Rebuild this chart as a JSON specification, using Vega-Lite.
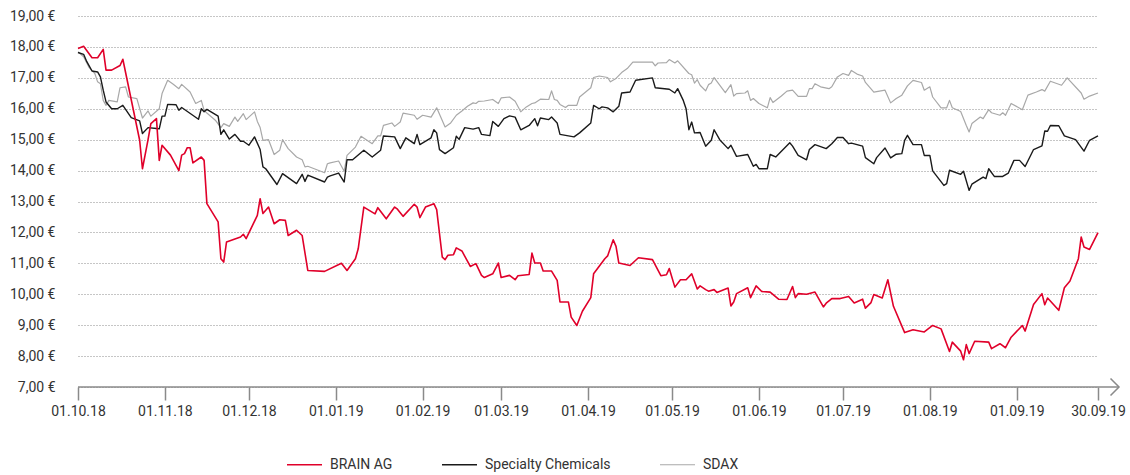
{
"$schema": "https://vega.github.io/schema/vega-lite/v6.json",
"width": 1020,
"height": 371,
"autosize": {"type": "none"},
"padding": {"left": 78, "top": 16, "right": 32, "bottom": 88},
"background": "white",
"config": {"view": {"stroke": null}, "font": "Roboto"},
"datasets": {
"prices": [
{"date":"2018-10-01","series":"SDAX","value":17.84},
{"date":"2018-10-03","series":"SDAX","value":17.68},
{"date":"2018-10-05","series":"SDAX","value":17.33},
{"date":"2018-10-07","series":"SDAX","value":17.14},
{"date":"2018-10-08","series":"SDAX","value":16.87},
{"date":"2018-10-09","series":"SDAX","value":16.81},
{"date":"2018-10-10","series":"SDAX","value":16.27},
{"date":"2018-10-11","series":"SDAX","value":16.11},
{"date":"2018-10-12","series":"SDAX","value":16.27},
{"date":"2018-10-15","series":"SDAX","value":16.22},
{"date":"2018-10-16","series":"SDAX","value":16.68},
{"date":"2018-10-18","series":"SDAX","value":16.71},
{"date":"2018-10-19","series":"SDAX","value":16.38},
{"date":"2018-10-22","series":"SDAX","value":16.33},
{"date":"2018-10-24","series":"SDAX","value":15.70},
{"date":"2018-10-26","series":"SDAX","value":15.93},
{"date":"2018-10-27","series":"SDAX","value":15.76},
{"date":"2018-10-30","series":"SDAX","value":16.00},
{"date":"2018-10-31","series":"SDAX","value":16.49},
{"date":"2018-11-02","series":"SDAX","value":16.92},
{"date":"2018-11-04","series":"SDAX","value":16.79},
{"date":"2018-11-06","series":"SDAX","value":16.65},
{"date":"2018-11-07","series":"SDAX","value":16.79},
{"date":"2018-11-10","series":"SDAX","value":16.54},
{"date":"2018-11-12","series":"SDAX","value":16.17},
{"date":"2018-11-14","series":"SDAX","value":16.27},
{"date":"2018-11-15","series":"SDAX","value":15.95},
{"date":"2018-11-16","series":"SDAX","value":15.86},
{"date":"2018-11-19","series":"SDAX","value":15.63},
{"date":"2018-11-21","series":"SDAX","value":15.39},
{"date":"2018-11-22","series":"SDAX","value":15.52},
{"date":"2018-11-24","series":"SDAX","value":15.43},
{"date":"2018-11-26","series":"SDAX","value":15.73},
{"date":"2018-11-27","series":"SDAX","value":15.59},
{"date":"2018-11-29","series":"SDAX","value":15.84},
{"date":"2018-11-30","series":"SDAX","value":15.65},
{"date":"2018-12-03","series":"SDAX","value":15.90},
{"date":"2018-12-04","series":"SDAX","value":15.59},
{"date":"2018-12-05","series":"SDAX","value":15.39},
{"date":"2018-12-06","series":"SDAX","value":14.98},
{"date":"2018-12-08","series":"SDAX","value":15.00},
{"date":"2018-12-10","series":"SDAX","value":14.52},
{"date":"2018-12-12","series":"SDAX","value":14.66},
{"date":"2018-12-13","series":"SDAX","value":15.00},
{"date":"2018-12-15","series":"SDAX","value":14.71},
{"date":"2018-12-18","series":"SDAX","value":14.44},
{"date":"2018-12-20","series":"SDAX","value":14.35},
{"date":"2018-12-21","series":"SDAX","value":14.12},
{"date":"2018-12-22","series":"SDAX","value":14.14},
{"date":"2018-12-28","series":"SDAX","value":13.93},
{"date":"2018-12-29","series":"SDAX","value":14.22},
{"date":"2018-12-30","series":"SDAX","value":14.25},
{"date":"2019-01-02","series":"SDAX","value":14.31},
{"date":"2019-01-04","series":"SDAX","value":13.98},
{"date":"2019-01-05","series":"SDAX","value":14.49},
{"date":"2019-01-08","series":"SDAX","value":14.76},
{"date":"2019-01-10","series":"SDAX","value":15.11},
{"date":"2019-01-14","series":"SDAX","value":14.87},
{"date":"2019-01-16","series":"SDAX","value":15.12},
{"date":"2019-01-17","series":"SDAX","value":15.12},
{"date":"2019-01-18","series":"SDAX","value":15.46},
{"date":"2019-01-21","series":"SDAX","value":15.54},
{"date":"2019-01-22","series":"SDAX","value":15.43},
{"date":"2019-01-24","series":"SDAX","value":15.57},
{"date":"2019-01-25","series":"SDAX","value":15.86},
{"date":"2019-01-29","series":"SDAX","value":15.79},
{"date":"2019-01-30","series":"SDAX","value":15.66},
{"date":"2019-02-01","series":"SDAX","value":15.79},
{"date":"2019-02-04","series":"SDAX","value":15.73},
{"date":"2019-02-06","series":"SDAX","value":16.03},
{"date":"2019-02-09","series":"SDAX","value":15.41},
{"date":"2019-02-11","series":"SDAX","value":15.54},
{"date":"2019-02-13","series":"SDAX","value":15.79},
{"date":"2019-02-15","series":"SDAX","value":15.93},
{"date":"2019-02-17","series":"SDAX","value":16.08},
{"date":"2019-02-19","series":"SDAX","value":16.19},
{"date":"2019-02-20","series":"SDAX","value":16.17},
{"date":"2019-02-21","series":"SDAX","value":16.24},
{"date":"2019-02-23","series":"SDAX","value":16.25},
{"date":"2019-02-26","series":"SDAX","value":16.30},
{"date":"2019-02-28","series":"SDAX","value":16.17},
{"date":"2019-03-01","series":"SDAX","value":16.35},
{"date":"2019-03-04","series":"SDAX","value":16.38},
{"date":"2019-03-06","series":"SDAX","value":16.24},
{"date":"2019-03-08","series":"SDAX","value":15.90},
{"date":"2019-03-10","series":"SDAX","value":16.06},
{"date":"2019-03-12","series":"SDAX","value":16.17},
{"date":"2019-03-13","series":"SDAX","value":16.19},
{"date":"2019-03-15","series":"SDAX","value":16.31},
{"date":"2019-03-18","series":"SDAX","value":16.30},
{"date":"2019-03-19","series":"SDAX","value":16.58},
{"date":"2019-03-20","series":"SDAX","value":16.30},
{"date":"2019-03-21","series":"SDAX","value":16.27},
{"date":"2019-03-22","series":"SDAX","value":16.14},
{"date":"2019-03-24","series":"SDAX","value":16.04},
{"date":"2019-03-25","series":"SDAX","value":16.11},
{"date":"2019-03-28","series":"SDAX","value":16.11},
{"date":"2019-03-29","series":"SDAX","value":16.38},
{"date":"2019-04-02","series":"SDAX","value":16.68},
{"date":"2019-04-03","series":"SDAX","value":17.01},
{"date":"2019-04-05","series":"SDAX","value":17.06},
{"date":"2019-04-08","series":"SDAX","value":17.01},
{"date":"2019-04-09","series":"SDAX","value":16.87},
{"date":"2019-04-11","series":"SDAX","value":16.98},
{"date":"2019-04-13","series":"SDAX","value":17.17},
{"date":"2019-04-15","series":"SDAX","value":17.30},
{"date":"2019-04-17","series":"SDAX","value":17.51},
{"date":"2019-04-24","series":"SDAX","value":17.51},
{"date":"2019-04-25","series":"SDAX","value":17.39},
{"date":"2019-04-26","series":"SDAX","value":17.48},
{"date":"2019-04-29","series":"SDAX","value":17.49},
{"date":"2019-04-30","series":"SDAX","value":17.59},
{"date":"2019-05-02","series":"SDAX","value":17.48},
{"date":"2019-05-03","series":"SDAX","value":17.55},
{"date":"2019-05-07","series":"SDAX","value":17.14},
{"date":"2019-05-08","series":"SDAX","value":17.10},
{"date":"2019-05-09","series":"SDAX","value":16.83},
{"date":"2019-05-10","series":"SDAX","value":16.94},
{"date":"2019-05-11","series":"SDAX","value":16.76},
{"date":"2019-05-13","series":"SDAX","value":16.58},
{"date":"2019-05-14","series":"SDAX","value":16.78},
{"date":"2019-05-15","series":"SDAX","value":16.83},
{"date":"2019-05-16","series":"SDAX","value":17.01},
{"date":"2019-05-20","series":"SDAX","value":16.52},
{"date":"2019-05-22","series":"SDAX","value":16.78},
{"date":"2019-05-23","series":"SDAX","value":16.41},
{"date":"2019-05-24","series":"SDAX","value":16.49},
{"date":"2019-05-27","series":"SDAX","value":16.51},
{"date":"2019-05-28","series":"SDAX","value":16.58},
{"date":"2019-05-29","series":"SDAX","value":16.27},
{"date":"2019-05-30","series":"SDAX","value":16.33},
{"date":"2019-06-01","series":"SDAX","value":16.17},
{"date":"2019-06-04","series":"SDAX","value":16.03},
{"date":"2019-06-05","series":"SDAX","value":16.36},
{"date":"2019-06-06","series":"SDAX","value":16.20},
{"date":"2019-06-09","series":"SDAX","value":16.41},
{"date":"2019-06-11","series":"SDAX","value":16.57},
{"date":"2019-06-13","series":"SDAX","value":16.60},
{"date":"2019-06-15","series":"SDAX","value":16.40},
{"date":"2019-06-18","series":"SDAX","value":16.40},
{"date":"2019-06-19","series":"SDAX","value":16.65},
{"date":"2019-06-20","series":"SDAX","value":16.65},
{"date":"2019-06-21","series":"SDAX","value":16.81},
{"date":"2019-06-23","series":"SDAX","value":16.71},
{"date":"2019-06-26","series":"SDAX","value":16.65},
{"date":"2019-06-27","series":"SDAX","value":16.71},
{"date":"2019-06-29","series":"SDAX","value":17.03},
{"date":"2019-07-01","series":"SDAX","value":17.14},
{"date":"2019-07-03","series":"SDAX","value":17.08},
{"date":"2019-07-04","series":"SDAX","value":17.24},
{"date":"2019-07-06","series":"SDAX","value":17.12},
{"date":"2019-07-08","series":"SDAX","value":17.06},
{"date":"2019-07-09","series":"SDAX","value":16.85},
{"date":"2019-07-12","series":"SDAX","value":16.54},
{"date":"2019-07-16","series":"SDAX","value":16.60},
{"date":"2019-07-18","series":"SDAX","value":16.19},
{"date":"2019-07-20","series":"SDAX","value":16.33},
{"date":"2019-07-22","series":"SDAX","value":16.44},
{"date":"2019-07-24","series":"SDAX","value":16.74},
{"date":"2019-07-26","series":"SDAX","value":16.92},
{"date":"2019-07-29","series":"SDAX","value":16.85},
{"date":"2019-07-30","series":"SDAX","value":16.60},
{"date":"2019-08-01","series":"SDAX","value":16.71},
{"date":"2019-08-02","series":"SDAX","value":16.38},
{"date":"2019-08-05","series":"SDAX","value":16.03},
{"date":"2019-08-07","series":"SDAX","value":16.03},
{"date":"2019-08-08","series":"SDAX","value":16.27},
{"date":"2019-08-09","series":"SDAX","value":16.03},
{"date":"2019-08-12","series":"SDAX","value":15.91},
{"date":"2019-08-14","series":"SDAX","value":15.46},
{"date":"2019-08-15","series":"SDAX","value":15.25},
{"date":"2019-08-16","series":"SDAX","value":15.52},
{"date":"2019-08-19","series":"SDAX","value":15.73},
{"date":"2019-08-20","series":"SDAX","value":15.68},
{"date":"2019-08-22","series":"SDAX","value":15.97},
{"date":"2019-08-23","series":"SDAX","value":15.87},
{"date":"2019-08-26","series":"SDAX","value":15.79},
{"date":"2019-08-27","series":"SDAX","value":15.87},
{"date":"2019-08-28","series":"SDAX","value":15.79},
{"date":"2019-08-30","series":"SDAX","value":16.17},
{"date":"2019-09-03","series":"SDAX","value":15.97},
{"date":"2019-09-05","series":"SDAX","value":16.44},
{"date":"2019-09-08","series":"SDAX","value":16.54},
{"date":"2019-09-10","series":"SDAX","value":16.62},
{"date":"2019-09-11","series":"SDAX","value":16.57},
{"date":"2019-09-13","series":"SDAX","value":16.89},
{"date":"2019-09-17","series":"SDAX","value":16.76},
{"date":"2019-09-19","series":"SDAX","value":17.00},
{"date":"2019-09-24","series":"SDAX","value":16.51},
{"date":"2019-09-25","series":"SDAX","value":16.31},
{"date":"2019-09-27","series":"SDAX","value":16.41},
{"date":"2019-09-30","series":"SDAX","value":16.51},
{"date":"2018-10-01","series":"Specialty Chemicals","value":17.82},
{"date":"2018-10-03","series":"Specialty Chemicals","value":17.76},
{"date":"2018-10-04","series":"Specialty Chemicals","value":17.55},
{"date":"2018-10-06","series":"Specialty Chemicals","value":17.22},
{"date":"2018-10-08","series":"Specialty Chemicals","value":17.19},
{"date":"2018-10-09","series":"Specialty Chemicals","value":17.03},
{"date":"2018-10-10","series":"Specialty Chemicals","value":16.60},
{"date":"2018-10-11","series":"Specialty Chemicals","value":16.22},
{"date":"2018-10-13","series":"Specialty Chemicals","value":16.00},
{"date":"2018-10-15","series":"Specialty Chemicals","value":16.00},
{"date":"2018-10-17","series":"Specialty Chemicals","value":16.11},
{"date":"2018-10-20","series":"Specialty Chemicals","value":15.71},
{"date":"2018-10-23","series":"Specialty Chemicals","value":15.61},
{"date":"2018-10-24","series":"Specialty Chemicals","value":15.20},
{"date":"2018-10-26","series":"Specialty Chemicals","value":15.39},
{"date":"2018-10-29","series":"Specialty Chemicals","value":15.36},
{"date":"2018-10-30","series":"Specialty Chemicals","value":15.35},
{"date":"2018-10-31","series":"Specialty Chemicals","value":15.76},
{"date":"2018-11-01","series":"Specialty Chemicals","value":15.76},
{"date":"2018-11-02","series":"Specialty Chemicals","value":16.14},
{"date":"2018-11-05","series":"Specialty Chemicals","value":16.13},
{"date":"2018-11-06","series":"Specialty Chemicals","value":15.95},
{"date":"2018-11-07","series":"Specialty Chemicals","value":16.04},
{"date":"2018-11-13","series":"Specialty Chemicals","value":15.66},
{"date":"2018-11-14","series":"Specialty Chemicals","value":16.00},
{"date":"2018-11-15","series":"Specialty Chemicals","value":15.90},
{"date":"2018-11-16","series":"Specialty Chemicals","value":15.98},
{"date":"2018-11-20","series":"Specialty Chemicals","value":15.76},
{"date":"2018-11-21","series":"Specialty Chemicals","value":15.17},
{"date":"2018-11-22","series":"Specialty Chemicals","value":15.32},
{"date":"2018-11-24","series":"Specialty Chemicals","value":15.02},
{"date":"2018-11-26","series":"Specialty Chemicals","value":15.17},
{"date":"2018-11-28","series":"Specialty Chemicals","value":14.95},
{"date":"2018-11-29","series":"Specialty Chemicals","value":14.95},
{"date":"2018-12-01","series":"Specialty Chemicals","value":14.82},
{"date":"2018-12-03","series":"Specialty Chemicals","value":15.09},
{"date":"2018-12-05","series":"Specialty Chemicals","value":14.68},
{"date":"2018-12-06","series":"Specialty Chemicals","value":14.12},
{"date":"2018-12-07","series":"Specialty Chemicals","value":14.06},
{"date":"2018-12-11","series":"Specialty Chemicals","value":13.55},
{"date":"2018-12-13","series":"Specialty Chemicals","value":13.90},
{"date":"2018-12-18","series":"Specialty Chemicals","value":13.58},
{"date":"2018-12-20","series":"Specialty Chemicals","value":13.88},
{"date":"2018-12-21","series":"Specialty Chemicals","value":13.65},
{"date":"2018-12-22","series":"Specialty Chemicals","value":13.85},
{"date":"2018-12-28","series":"Specialty Chemicals","value":13.63},
{"date":"2018-12-29","series":"Specialty Chemicals","value":13.79},
{"date":"2018-12-30","series":"Specialty Chemicals","value":13.83},
{"date":"2019-01-02","series":"Specialty Chemicals","value":13.92},
{"date":"2019-01-04","series":"Specialty Chemicals","value":13.63},
{"date":"2019-01-05","series":"Specialty Chemicals","value":14.35},
{"date":"2019-01-07","series":"Specialty Chemicals","value":14.35},
{"date":"2019-01-11","series":"Specialty Chemicals","value":14.66},
{"date":"2019-01-14","series":"Specialty Chemicals","value":14.44},
{"date":"2019-01-17","series":"Specialty Chemicals","value":14.66},
{"date":"2019-01-18","series":"Specialty Chemicals","value":15.12},
{"date":"2019-01-22","series":"Specialty Chemicals","value":15.09},
{"date":"2019-01-24","series":"Specialty Chemicals","value":14.71},
{"date":"2019-01-26","series":"Specialty Chemicals","value":15.06},
{"date":"2019-01-29","series":"Specialty Chemicals","value":14.87},
{"date":"2019-01-30","series":"Specialty Chemicals","value":15.17},
{"date":"2019-01-31","series":"Specialty Chemicals","value":14.84},
{"date":"2019-02-04","series":"Specialty Chemicals","value":15.06},
{"date":"2019-02-05","series":"Specialty Chemicals","value":15.32},
{"date":"2019-02-06","series":"Specialty Chemicals","value":15.22},
{"date":"2019-02-07","series":"Specialty Chemicals","value":14.68},
{"date":"2019-02-09","series":"Specialty Chemicals","value":14.55},
{"date":"2019-02-12","series":"Specialty Chemicals","value":14.74},
{"date":"2019-02-13","series":"Specialty Chemicals","value":15.11},
{"date":"2019-02-14","series":"Specialty Chemicals","value":15.01},
{"date":"2019-02-16","series":"Specialty Chemicals","value":15.39},
{"date":"2019-02-19","series":"Specialty Chemicals","value":15.34},
{"date":"2019-02-21","series":"Specialty Chemicals","value":15.39},
{"date":"2019-02-22","series":"Specialty Chemicals","value":15.17},
{"date":"2019-02-25","series":"Specialty Chemicals","value":15.13},
{"date":"2019-02-26","series":"Specialty Chemicals","value":15.59},
{"date":"2019-02-28","series":"Specialty Chemicals","value":15.43},
{"date":"2019-03-02","series":"Specialty Chemicals","value":15.68},
{"date":"2019-03-04","series":"Specialty Chemicals","value":15.77},
{"date":"2019-03-06","series":"Specialty Chemicals","value":15.73},
{"date":"2019-03-08","series":"Specialty Chemicals","value":15.32},
{"date":"2019-03-11","series":"Specialty Chemicals","value":15.46},
{"date":"2019-03-13","series":"Specialty Chemicals","value":15.68},
{"date":"2019-03-14","series":"Specialty Chemicals","value":15.45},
{"date":"2019-03-15","series":"Specialty Chemicals","value":15.70},
{"date":"2019-03-18","series":"Specialty Chemicals","value":15.65},
{"date":"2019-03-19","series":"Specialty Chemicals","value":15.73},
{"date":"2019-03-21","series":"Specialty Chemicals","value":15.54},
{"date":"2019-03-22","series":"Specialty Chemicals","value":15.17},
{"date":"2019-03-27","series":"Specialty Chemicals","value":15.09},
{"date":"2019-03-29","series":"Specialty Chemicals","value":15.22},
{"date":"2019-04-02","series":"Specialty Chemicals","value":15.54},
{"date":"2019-04-03","series":"Specialty Chemicals","value":16.11},
{"date":"2019-04-05","series":"Specialty Chemicals","value":16.00},
{"date":"2019-04-06","series":"Specialty Chemicals","value":16.06},
{"date":"2019-04-08","series":"Specialty Chemicals","value":16.03},
{"date":"2019-04-10","series":"Specialty Chemicals","value":15.90},
{"date":"2019-04-12","series":"Specialty Chemicals","value":16.08},
{"date":"2019-04-13","series":"Specialty Chemicals","value":16.51},
{"date":"2019-04-16","series":"Specialty Chemicals","value":16.54},
{"date":"2019-04-18","series":"Specialty Chemicals","value":16.92},
{"date":"2019-04-24","series":"Specialty Chemicals","value":17.00},
{"date":"2019-04-25","series":"Specialty Chemicals","value":16.68},
{"date":"2019-04-30","series":"Specialty Chemicals","value":16.63},
{"date":"2019-05-02","series":"Specialty Chemicals","value":16.51},
{"date":"2019-05-03","series":"Specialty Chemicals","value":16.65},
{"date":"2019-05-05","series":"Specialty Chemicals","value":16.27},
{"date":"2019-05-06","series":"Specialty Chemicals","value":16.00},
{"date":"2019-05-07","series":"Specialty Chemicals","value":15.32},
{"date":"2019-05-08","series":"Specialty Chemicals","value":15.57},
{"date":"2019-05-09","series":"Specialty Chemicals","value":15.22},
{"date":"2019-05-11","series":"Specialty Chemicals","value":15.23},
{"date":"2019-05-13","series":"Specialty Chemicals","value":14.79},
{"date":"2019-05-15","series":"Specialty Chemicals","value":14.98},
{"date":"2019-05-16","series":"Specialty Chemicals","value":15.32},
{"date":"2019-05-18","series":"Specialty Chemicals","value":15.00},
{"date":"2019-05-21","series":"Specialty Chemicals","value":14.71},
{"date":"2019-05-22","series":"Specialty Chemicals","value":14.82},
{"date":"2019-05-24","series":"Specialty Chemicals","value":14.46},
{"date":"2019-05-28","series":"Specialty Chemicals","value":14.52},
{"date":"2019-05-30","series":"Specialty Chemicals","value":14.14},
{"date":"2019-05-31","series":"Specialty Chemicals","value":14.20},
{"date":"2019-06-01","series":"Specialty Chemicals","value":14.06},
{"date":"2019-06-04","series":"Specialty Chemicals","value":14.06},
{"date":"2019-06-05","series":"Specialty Chemicals","value":14.52},
{"date":"2019-06-07","series":"Specialty Chemicals","value":14.44},
{"date":"2019-06-12","series":"Specialty Chemicals","value":14.90},
{"date":"2019-06-13","series":"Specialty Chemicals","value":14.79},
{"date":"2019-06-15","series":"Specialty Chemicals","value":14.49},
{"date":"2019-06-18","series":"Specialty Chemicals","value":14.35},
{"date":"2019-06-19","series":"Specialty Chemicals","value":14.68},
{"date":"2019-06-21","series":"Specialty Chemicals","value":14.84},
{"date":"2019-06-25","series":"Specialty Chemicals","value":14.71},
{"date":"2019-06-27","series":"Specialty Chemicals","value":14.87},
{"date":"2019-06-29","series":"Specialty Chemicals","value":15.07},
{"date":"2019-07-01","series":"Specialty Chemicals","value":15.07},
{"date":"2019-07-03","series":"Specialty Chemicals","value":14.87},
{"date":"2019-07-04","series":"Specialty Chemicals","value":14.89},
{"date":"2019-07-08","series":"Specialty Chemicals","value":14.79},
{"date":"2019-07-09","series":"Specialty Chemicals","value":14.42},
{"date":"2019-07-12","series":"Specialty Chemicals","value":14.22},
{"date":"2019-07-13","series":"Specialty Chemicals","value":14.42},
{"date":"2019-07-16","series":"Specialty Chemicals","value":14.73},
{"date":"2019-07-18","series":"Specialty Chemicals","value":14.41},
{"date":"2019-07-20","series":"Specialty Chemicals","value":14.53},
{"date":"2019-07-22","series":"Specialty Chemicals","value":14.55},
{"date":"2019-07-23","series":"Specialty Chemicals","value":14.98},
{"date":"2019-07-24","series":"Specialty Chemicals","value":15.14},
{"date":"2019-07-26","series":"Specialty Chemicals","value":14.84},
{"date":"2019-07-29","series":"Specialty Chemicals","value":14.84},
{"date":"2019-07-30","series":"Specialty Chemicals","value":14.49},
{"date":"2019-08-01","series":"Specialty Chemicals","value":14.49},
{"date":"2019-08-02","series":"Specialty Chemicals","value":13.99},
{"date":"2019-08-06","series":"Specialty Chemicals","value":13.52},
{"date":"2019-08-07","series":"Specialty Chemicals","value":13.58},
{"date":"2019-08-08","series":"Specialty Chemicals","value":14.01},
{"date":"2019-08-12","series":"Specialty Chemicals","value":13.88},
{"date":"2019-08-13","series":"Specialty Chemicals","value":13.98},
{"date":"2019-08-15","series":"Specialty Chemicals","value":13.36},
{"date":"2019-08-16","series":"Specialty Chemicals","value":13.56},
{"date":"2019-08-20","series":"Specialty Chemicals","value":13.79},
{"date":"2019-08-21","series":"Specialty Chemicals","value":13.74},
{"date":"2019-08-22","series":"Specialty Chemicals","value":14.06},
{"date":"2019-08-24","series":"Specialty Chemicals","value":13.81},
{"date":"2019-08-27","series":"Specialty Chemicals","value":13.81},
{"date":"2019-08-29","series":"Specialty Chemicals","value":13.92},
{"date":"2019-08-31","series":"Specialty Chemicals","value":14.33},
{"date":"2019-09-02","series":"Specialty Chemicals","value":14.33},
{"date":"2019-09-04","series":"Specialty Chemicals","value":14.13},
{"date":"2019-09-07","series":"Specialty Chemicals","value":14.68},
{"date":"2019-09-10","series":"Specialty Chemicals","value":14.80},
{"date":"2019-09-11","series":"Specialty Chemicals","value":15.28},
{"date":"2019-09-12","series":"Specialty Chemicals","value":15.27},
{"date":"2019-09-13","series":"Specialty Chemicals","value":15.46},
{"date":"2019-09-16","series":"Specialty Chemicals","value":15.45},
{"date":"2019-09-18","series":"Specialty Chemicals","value":15.12},
{"date":"2019-09-22","series":"Specialty Chemicals","value":15.00},
{"date":"2019-09-25","series":"Specialty Chemicals","value":14.63},
{"date":"2019-09-27","series":"Specialty Chemicals","value":14.98},
{"date":"2019-09-30","series":"Specialty Chemicals","value":15.12},
{"date":"2018-10-01","series":"BRAIN AG","value":17.95},
{"date":"2018-10-03","series":"BRAIN AG","value":18.02},
{"date":"2018-10-06","series":"BRAIN AG","value":17.65},
{"date":"2018-10-08","series":"BRAIN AG","value":17.65},
{"date":"2018-10-10","series":"BRAIN AG","value":17.92},
{"date":"2018-10-11","series":"BRAIN AG","value":17.25},
{"date":"2018-10-13","series":"BRAIN AG","value":17.25},
{"date":"2018-10-16","series":"BRAIN AG","value":17.40},
{"date":"2018-10-17","series":"BRAIN AG","value":17.60},
{"date":"2018-10-23","series":"BRAIN AG","value":14.98},
{"date":"2018-10-24","series":"BRAIN AG","value":14.06},
{"date":"2018-10-26","series":"BRAIN AG","value":15.00},
{"date":"2018-10-27","series":"BRAIN AG","value":15.52},
{"date":"2018-10-29","series":"BRAIN AG","value":15.68},
{"date":"2018-10-30","series":"BRAIN AG","value":14.33},
{"date":"2018-10-31","series":"BRAIN AG","value":14.82},
{"date":"2018-11-03","series":"BRAIN AG","value":14.50},
{"date":"2018-11-06","series":"BRAIN AG","value":14.00},
{"date":"2018-11-07","series":"BRAIN AG","value":14.50},
{"date":"2018-11-08","series":"BRAIN AG","value":14.55},
{"date":"2018-11-09","series":"BRAIN AG","value":14.74},
{"date":"2018-11-10","series":"BRAIN AG","value":14.74},
{"date":"2018-11-11","series":"BRAIN AG","value":14.25},
{"date":"2018-11-14","series":"BRAIN AG","value":14.44},
{"date":"2018-11-15","series":"BRAIN AG","value":14.33},
{"date":"2018-11-16","series":"BRAIN AG","value":12.93},
{"date":"2018-11-20","series":"BRAIN AG","value":12.34},
{"date":"2018-11-21","series":"BRAIN AG","value":11.15},
{"date":"2018-11-22","series":"BRAIN AG","value":11.04},
{"date":"2018-11-23","series":"BRAIN AG","value":11.69},
{"date":"2018-11-28","series":"BRAIN AG","value":11.85},
{"date":"2018-11-29","series":"BRAIN AG","value":11.94},
{"date":"2018-11-30","series":"BRAIN AG","value":11.80},
{"date":"2018-12-04","series":"BRAIN AG","value":12.55},
{"date":"2018-12-05","series":"BRAIN AG","value":13.09},
{"date":"2018-12-06","series":"BRAIN AG","value":12.61},
{"date":"2018-12-08","series":"BRAIN AG","value":12.82},
{"date":"2018-12-10","series":"BRAIN AG","value":12.28},
{"date":"2018-12-12","series":"BRAIN AG","value":12.41},
{"date":"2018-12-14","series":"BRAIN AG","value":12.39},
{"date":"2018-12-15","series":"BRAIN AG","value":11.90},
{"date":"2018-12-18","series":"BRAIN AG","value":12.07},
{"date":"2018-12-20","series":"BRAIN AG","value":11.90},
{"date":"2018-12-22","series":"BRAIN AG","value":10.77},
{"date":"2018-12-28","series":"BRAIN AG","value":10.74},
{"date":"2019-01-03","series":"BRAIN AG","value":11.00},
{"date":"2019-01-05","series":"BRAIN AG","value":10.77},
{"date":"2019-01-08","series":"BRAIN AG","value":11.15},
{"date":"2019-01-09","series":"BRAIN AG","value":11.47},
{"date":"2019-01-11","series":"BRAIN AG","value":12.82},
{"date":"2019-01-15","series":"BRAIN AG","value":12.60},
{"date":"2019-01-16","series":"BRAIN AG","value":12.80},
{"date":"2019-01-19","series":"BRAIN AG","value":12.44},
{"date":"2019-01-22","series":"BRAIN AG","value":12.82},
{"date":"2019-01-23","series":"BRAIN AG","value":12.75},
{"date":"2019-01-25","series":"BRAIN AG","value":12.52},
{"date":"2019-01-29","series":"BRAIN AG","value":12.91},
{"date":"2019-01-30","series":"BRAIN AG","value":12.82},
{"date":"2019-01-31","series":"BRAIN AG","value":12.48},
{"date":"2019-02-02","series":"BRAIN AG","value":12.82},
{"date":"2019-02-05","series":"BRAIN AG","value":12.93},
{"date":"2019-02-06","series":"BRAIN AG","value":12.74},
{"date":"2019-02-08","series":"BRAIN AG","value":11.20},
{"date":"2019-02-09","series":"BRAIN AG","value":11.12},
{"date":"2019-02-10","series":"BRAIN AG","value":11.26},
{"date":"2019-02-12","series":"BRAIN AG","value":11.28},
{"date":"2019-02-13","series":"BRAIN AG","value":11.50},
{"date":"2019-02-15","series":"BRAIN AG","value":11.40},
{"date":"2019-02-18","series":"BRAIN AG","value":10.90},
{"date":"2019-02-20","series":"BRAIN AG","value":10.99},
{"date":"2019-02-22","series":"BRAIN AG","value":10.61},
{"date":"2019-02-23","series":"BRAIN AG","value":10.54},
{"date":"2019-02-26","series":"BRAIN AG","value":10.66},
{"date":"2019-02-28","series":"BRAIN AG","value":11.01},
{"date":"2019-03-01","series":"BRAIN AG","value":10.54},
{"date":"2019-03-04","series":"BRAIN AG","value":10.61},
{"date":"2019-03-06","series":"BRAIN AG","value":10.47},
{"date":"2019-03-07","series":"BRAIN AG","value":10.60},
{"date":"2019-03-11","series":"BRAIN AG","value":10.64},
{"date":"2019-03-12","series":"BRAIN AG","value":11.33},
{"date":"2019-03-13","series":"BRAIN AG","value":11.01},
{"date":"2019-03-15","series":"BRAIN AG","value":11.01},
{"date":"2019-03-16","series":"BRAIN AG","value":10.75},
{"date":"2019-03-19","series":"BRAIN AG","value":10.75},
{"date":"2019-03-21","series":"BRAIN AG","value":10.45},
{"date":"2019-03-22","series":"BRAIN AG","value":9.75},
{"date":"2019-03-25","series":"BRAIN AG","value":9.75},
{"date":"2019-03-26","series":"BRAIN AG","value":9.26},
{"date":"2019-03-28","series":"BRAIN AG","value":8.99},
{"date":"2019-03-30","series":"BRAIN AG","value":9.45},
{"date":"2019-04-02","series":"BRAIN AG","value":9.89},
{"date":"2019-04-03","series":"BRAIN AG","value":10.66},
{"date":"2019-04-07","series":"BRAIN AG","value":11.15},
{"date":"2019-04-08","series":"BRAIN AG","value":11.24},
{"date":"2019-04-10","series":"BRAIN AG","value":11.76},
{"date":"2019-04-11","series":"BRAIN AG","value":11.55},
{"date":"2019-04-12","series":"BRAIN AG","value":11.01},
{"date":"2019-04-16","series":"BRAIN AG","value":10.93},
{"date":"2019-04-19","series":"BRAIN AG","value":11.18},
{"date":"2019-04-24","series":"BRAIN AG","value":11.12},
{"date":"2019-04-27","series":"BRAIN AG","value":10.60},
{"date":"2019-04-29","series":"BRAIN AG","value":10.63},
{"date":"2019-04-30","series":"BRAIN AG","value":10.83},
{"date":"2019-05-02","series":"BRAIN AG","value":10.23},
{"date":"2019-05-04","series":"BRAIN AG","value":10.47},
{"date":"2019-05-06","series":"BRAIN AG","value":10.47},
{"date":"2019-05-08","series":"BRAIN AG","value":10.66},
{"date":"2019-05-10","series":"BRAIN AG","value":10.17},
{"date":"2019-05-11","series":"BRAIN AG","value":10.27},
{"date":"2019-05-13","series":"BRAIN AG","value":10.15},
{"date":"2019-05-14","series":"BRAIN AG","value":10.10},
{"date":"2019-05-16","series":"BRAIN AG","value":10.15},
{"date":"2019-05-17","series":"BRAIN AG","value":10.06},
{"date":"2019-05-21","series":"BRAIN AG","value":10.20},
{"date":"2019-05-22","series":"BRAIN AG","value":9.62},
{"date":"2019-05-23","series":"BRAIN AG","value":9.75},
{"date":"2019-05-24","series":"BRAIN AG","value":10.02},
{"date":"2019-05-28","series":"BRAIN AG","value":10.21},
{"date":"2019-05-29","series":"BRAIN AG","value":9.89},
{"date":"2019-05-31","series":"BRAIN AG","value":10.27},
{"date":"2019-06-02","series":"BRAIN AG","value":10.09},
{"date":"2019-06-05","series":"BRAIN AG","value":10.07},
{"date":"2019-06-08","series":"BRAIN AG","value":9.84},
{"date":"2019-06-11","series":"BRAIN AG","value":9.83},
{"date":"2019-06-13","series":"BRAIN AG","value":10.25},
{"date":"2019-06-14","series":"BRAIN AG","value":9.89},
{"date":"2019-06-15","series":"BRAIN AG","value":10.02},
{"date":"2019-06-18","series":"BRAIN AG","value":10.00},
{"date":"2019-06-21","series":"BRAIN AG","value":10.07},
{"date":"2019-06-24","series":"BRAIN AG","value":9.59},
{"date":"2019-06-25","series":"BRAIN AG","value":9.71},
{"date":"2019-06-27","series":"BRAIN AG","value":9.86},
{"date":"2019-06-30","series":"BRAIN AG","value":9.86},
{"date":"2019-07-03","series":"BRAIN AG","value":9.93},
{"date":"2019-07-05","series":"BRAIN AG","value":9.72},
{"date":"2019-07-08","series":"BRAIN AG","value":9.84},
{"date":"2019-07-09","series":"BRAIN AG","value":9.55},
{"date":"2019-07-11","series":"BRAIN AG","value":9.73},
{"date":"2019-07-12","series":"BRAIN AG","value":9.99},
{"date":"2019-07-15","series":"BRAIN AG","value":9.88},
{"date":"2019-07-17","series":"BRAIN AG","value":10.47},
{"date":"2019-07-19","series":"BRAIN AG","value":9.61},
{"date":"2019-07-23","series":"BRAIN AG","value":8.76},
{"date":"2019-07-26","series":"BRAIN AG","value":8.85},
{"date":"2019-07-30","series":"BRAIN AG","value":8.78},
{"date":"2019-08-02","series":"BRAIN AG","value":8.99},
{"date":"2019-08-05","series":"BRAIN AG","value":8.88},
{"date":"2019-08-08","series":"BRAIN AG","value":8.15},
{"date":"2019-08-09","series":"BRAIN AG","value":8.45},
{"date":"2019-08-12","series":"BRAIN AG","value":8.16},
{"date":"2019-08-13","series":"BRAIN AG","value":7.88},
{"date":"2019-08-14","series":"BRAIN AG","value":8.37},
{"date":"2019-08-15","series":"BRAIN AG","value":8.08},
{"date":"2019-08-17","series":"BRAIN AG","value":8.48},
{"date":"2019-08-22","series":"BRAIN AG","value":8.45},
{"date":"2019-08-23","series":"BRAIN AG","value":8.24},
{"date":"2019-08-26","series":"BRAIN AG","value":8.40},
{"date":"2019-08-28","series":"BRAIN AG","value":8.27},
{"date":"2019-08-30","series":"BRAIN AG","value":8.61},
{"date":"2019-09-03","series":"BRAIN AG","value":8.99},
{"date":"2019-09-04","series":"BRAIN AG","value":8.81},
{"date":"2019-09-07","series":"BRAIN AG","value":9.67},
{"date":"2019-09-10","series":"BRAIN AG","value":10.02},
{"date":"2019-09-11","series":"BRAIN AG","value":9.66},
{"date":"2019-09-12","series":"BRAIN AG","value":9.88},
{"date":"2019-09-16","series":"BRAIN AG","value":9.48},
{"date":"2019-09-18","series":"BRAIN AG","value":10.21},
{"date":"2019-09-20","series":"BRAIN AG","value":10.43},
{"date":"2019-09-23","series":"BRAIN AG","value":11.15},
{"date":"2019-09-24","series":"BRAIN AG","value":11.85},
{"date":"2019-09-25","series":"BRAIN AG","value":11.53},
{"date":"2019-09-27","series":"BRAIN AG","value":11.45},
{"date":"2019-09-30","series":"BRAIN AG","value":11.99}
]
},
"layer": [
{
"data": {"name": "prices"},
"mark": {"type": "line", "strokeJoin": "round"},
"encoding": {
"x": {"field": "date", "type": "temporal",
"scale": {"type": "utc", "domain": [{"year": 2018, "month": 10, "date": 1, "utc": true}, {"year": 2019, "month": 9, "date": 30, "utc": true}]},
"axis": {"title": null, "domain": false, "grid": false, "format": "%d.%m.%y", "tickCount": 40,
"values": [
{"year": 2018, "month": 10, "date": 1, "utc": true},
{"year": 2018, "month": 11, "date": 1, "utc": true},
{"year": 2018, "month": 12, "date": 1, "utc": true},
{"year": 2019, "month": 1, "date": 1, "utc": true},
{"year": 2019, "month": 2, "date": 1, "utc": true},
{"year": 2019, "month": 3, "date": 1, "utc": true},
{"year": 2019, "month": 4, "date": 1, "utc": true},
{"year": 2019, "month": 5, "date": 1, "utc": true},
{"year": 2019, "month": 6, "date": 1, "utc": true},
{"year": 2019, "month": 7, "date": 1, "utc": true},
{"year": 2019, "month": 8, "date": 1, "utc": true},
{"year": 2019, "month": 9, "date": 1, "utc": true},
{"year": 2019, "month": 9, "date": 30, "utc": true}],
"tickColor": "#8a8a8a", "tickWidth": 1.5, "tickSize": 13, "labelPadding": 4,
"labelFont": "Roboto", "labelFontSize": 14, "labelColor": "#333333",
"labelFlush": false, "labelOverlap": false}},
"y": {"field": "value", "type": "quantitative",
"scale": {"domain": [7, 19], "nice": false, "zero": false},
"axis": {"title": null, "domain": false, "ticks": false, "tickSize": 0, "labelPadding": 23, "tickCount": 30,
"values": [7, 8, 9, 10, 11, 12, 13, 14, 15, 16, 17, 18, 19],
"labelExpr": "replace(format(datum.value, '.2f'), '.', ',') + ' €'",
"labelFont": "Roboto", "labelFontSize": 14, "labelColor": "#333333", "labelOverlap": false, "labelFlush": false,
"grid": true, "gridColor": "#8c8c8c", "gridDash": [1, 2], "gridWidth": 1}},
"color": {"field": "series", "type": "nominal",
"scale": {"domain": ["BRAIN AG", "Specialty Chemicals", "SDAX"], "range": ["#e0002a", "#1a1a1a", "#a8a8a8"]},
"legend": {"orient": "none", "legendX": 208, "legendY": 430, "direction": "horizontal", "title": null,
"symbolType": "stroke", "symbolSize": 1225, "symbolStrokeWidth": 1.5,
"labelFont": "Roboto", "labelFontSize": 14, "labelColor": "#333333", "labelOffset": 7, "columnPadding": 46}},
"strokeWidth": {"field": "series", "type": "nominal",
"scale": {"domain": ["BRAIN AG", "Specialty Chemicals", "SDAX"], "range": [1.6, 1.2, 1.1]},
"legend": null}
}
},
{
"data": {"values": [{}]},
"mark": {"type": "rule", "color": "#8a8a8a", "strokeWidth": 1.5, "clip": false},
"encoding": {
"x": {"datum": {"year": 2018, "month": 10, "date": 1, "utc": true}, "type": "temporal",
"scale": {"type": "utc", "domain": [{"year": 2018, "month": 10, "date": 1, "utc": true}, {"year": 2019, "month": 9, "date": 30, "utc": true}]}},
"x2": {"datum": {"year": 2019, "month": 10, "date": 7, "hours": 12, "utc": true}},
"y": {"datum": 7, "type": "quantitative"}
}
},
{
"data": {"values": [{}]},
"mark": {"type": "point", "shape": "M-1,-1L0,0L-1,1", "size": 289, "filled": false, "color": "#8a8a8a", "strokeWidth": 1.5, "opacity": 1, "clip": false},
"encoding": {
"x": {"datum": {"year": 2019, "month": 10, "date": 7, "hours": 12, "utc": true}, "type": "temporal",
"scale": {"type": "utc", "domain": [{"year": 2018, "month": 10, "date": 1, "utc": true}, {"year": 2019, "month": 9, "date": 30, "utc": true}]}},
"y": {"datum": 7, "type": "quantitative"}
}
}
]
}
